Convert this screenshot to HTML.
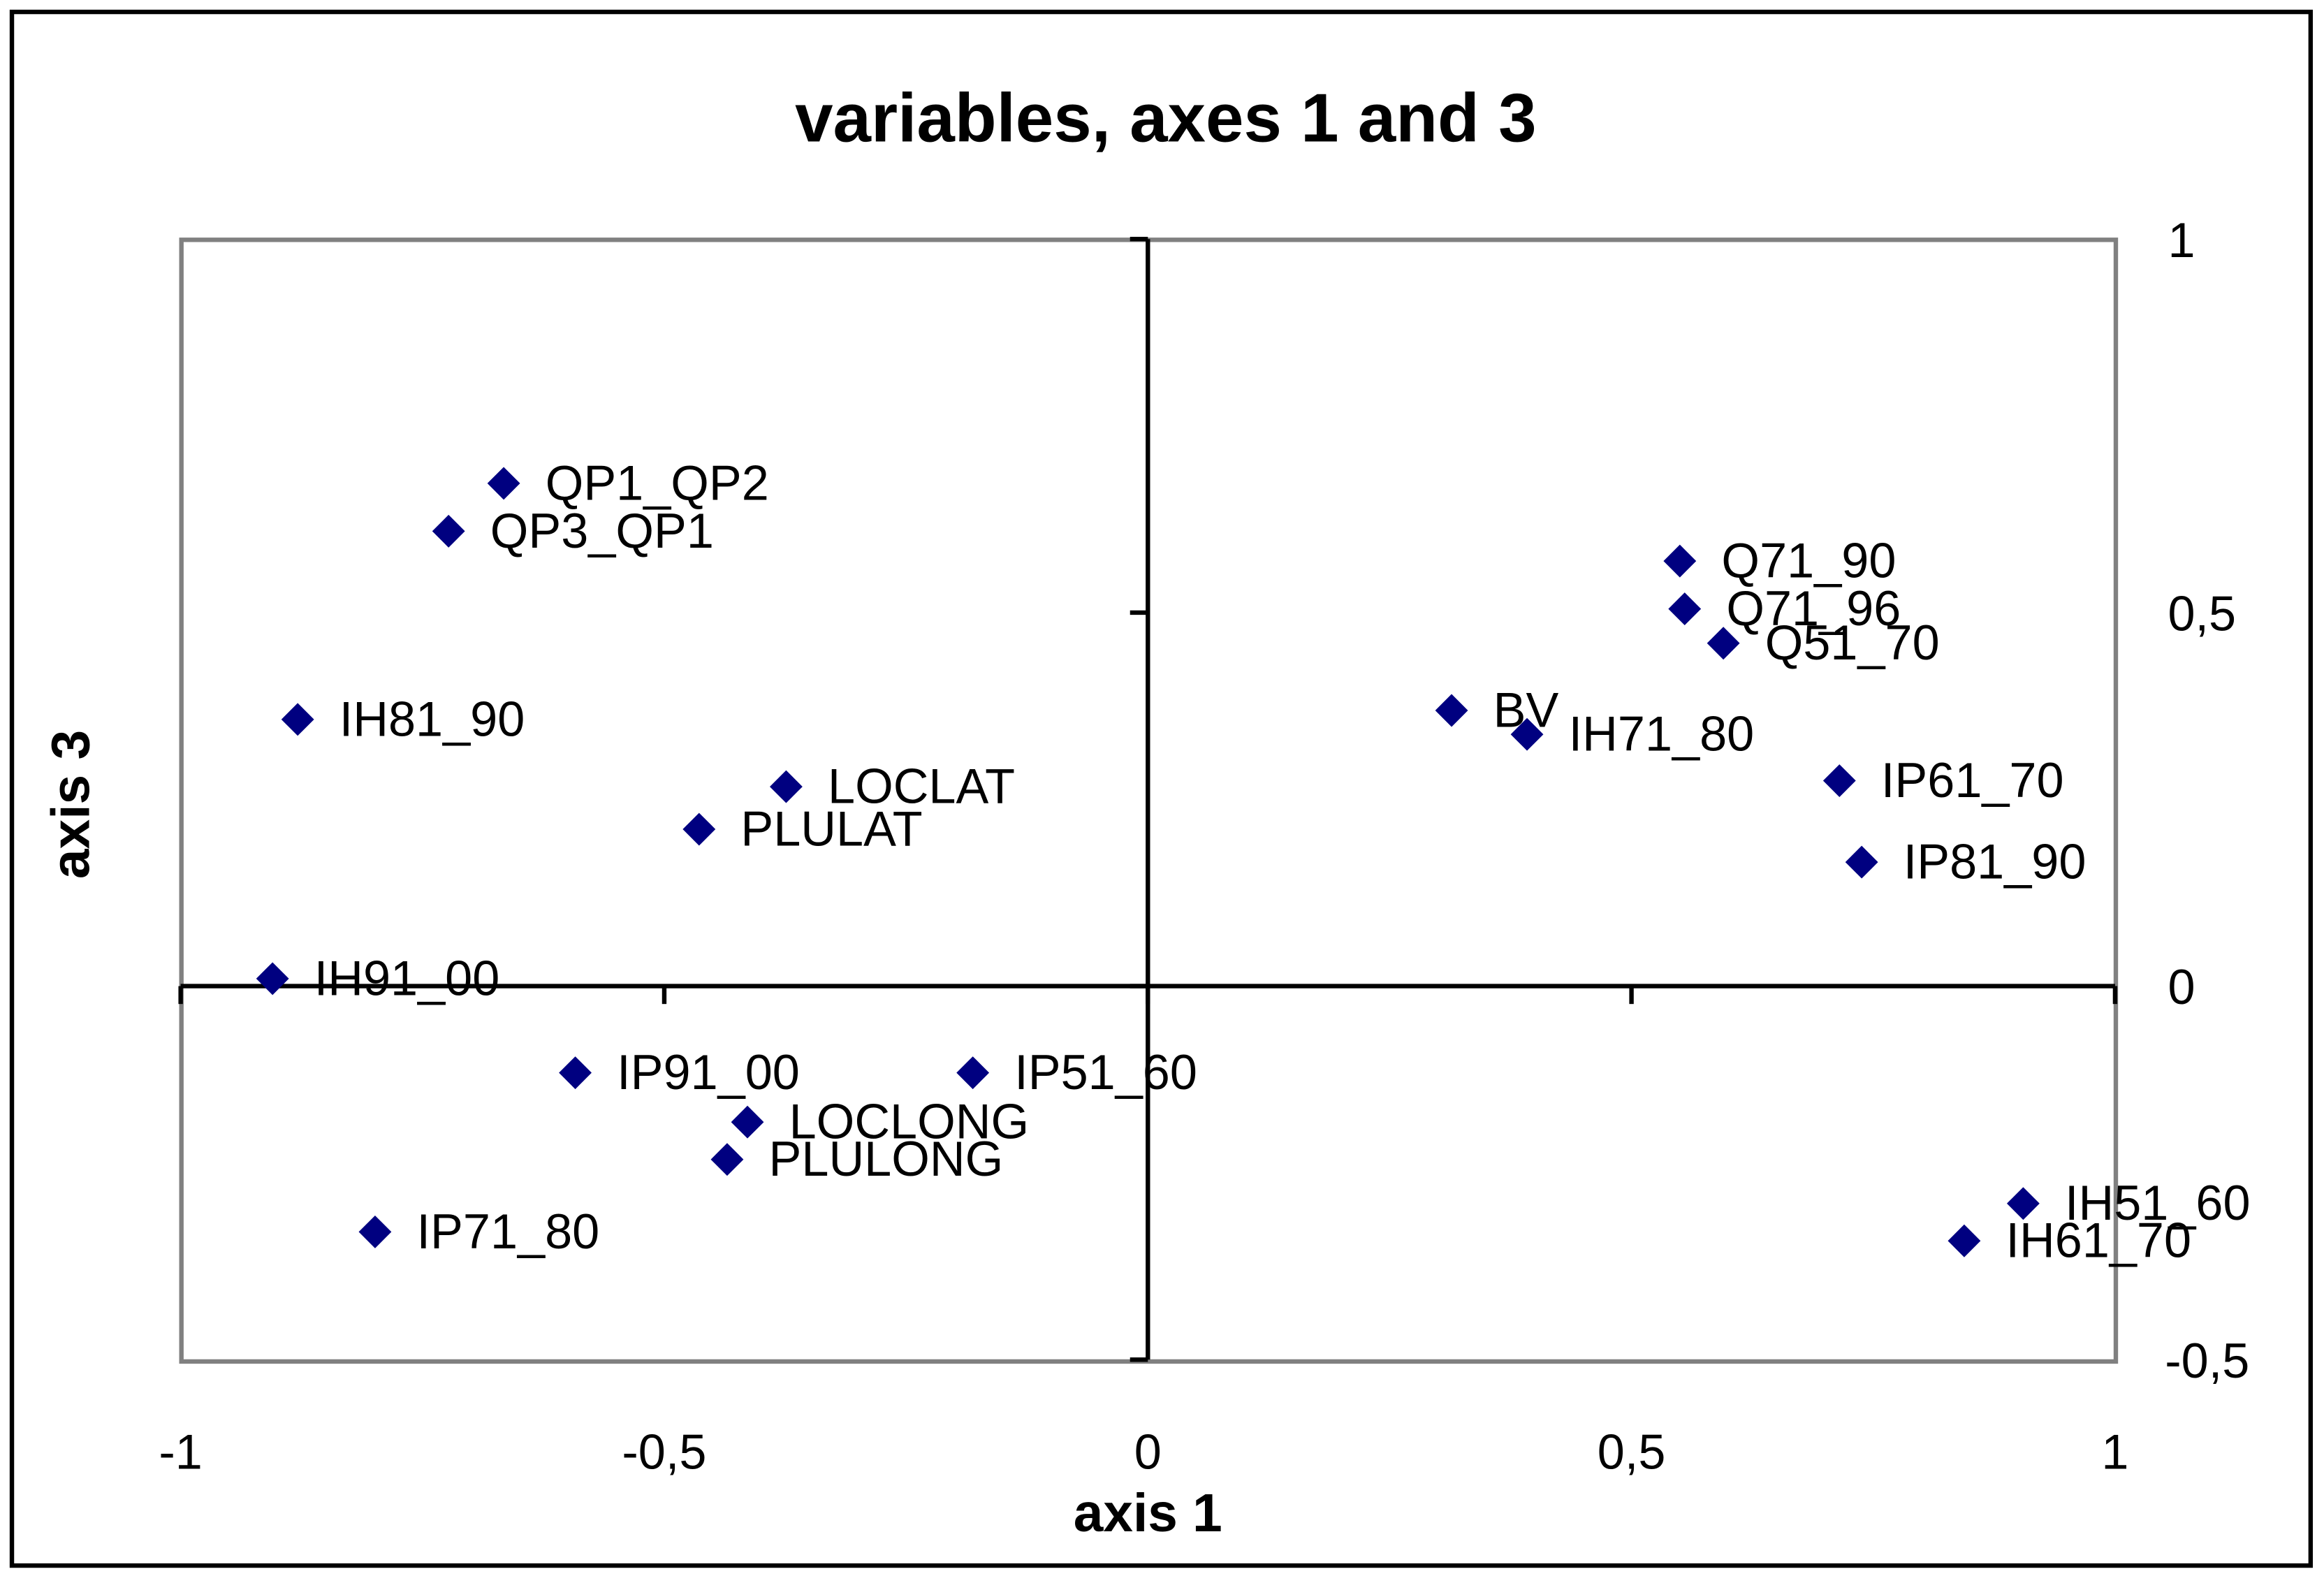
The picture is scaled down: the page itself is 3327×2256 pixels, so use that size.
<!DOCTYPE html>
<html><head><meta charset="utf-8"><style>
html,body{margin:0;padding:0;background:#fff;}
svg{display:block;font-family:"Liberation Sans",Arial,sans-serif;}
</style></head><body>
<svg width="3327" height="2256" viewBox="0 0 1563 1058" preserveAspectRatio="none" xmlns="http://www.w3.org/2000/svg">
<rect x="8" y="8" width="1546" height="1043" fill="#fff" stroke="#000" stroke-width="3"/>
<text x="784" y="95" font-size="46" font-weight="bold" text-anchor="middle">variables, axes 1 and 3</text>
<rect x="122" y="161" width="1301" height="753" fill="none" stroke="#808080" stroke-width="3"/>
<g id="axes"></g>
<g id="pts"></g>
<text x="772" y="1028" font-size="36" font-weight="bold" text-anchor="middle">axis 1</text>
<text transform="translate(60,540) rotate(-90)" font-size="36" font-weight="bold" text-anchor="middle">axis 3</text>
</svg>
<script>
const labels=["QP1_QP2","QP3_QP1","IH81_90","LOCLAT","PLULAT","IH91_00","IP91_00","IP51_60","LOCLONG","PLULONG","IP71_80","Q71_90","Q71_96","Q51_70","BV","IH71_80","IP61_70","IP81_90","IH51_60","IH61_70"];
const xVals=[-0.666,-0.723,-0.879,-0.374,-0.464,-0.905,-0.592,-0.181,-0.414,-0.435,-0.799,0.550,0.555,0.595,0.314,0.392,0.715,0.738,0.905,0.844];
const yVals=[0.673,0.609,0.357,0.267,0.210,0.010,-0.116,-0.116,-0.182,-0.232,-0.329,0.569,0.505,0.459,0.369,0.337,0.275,0.166,-0.291,-0.341];
const xTicks=[-1,-0.5,0,0.5,1];
const yTicks=[1,0.5,0,-0.5];
const NS="http://www.w3.org/2000/svg";
const sx=v=>772+v*650.5, sy=v=>662-v*501.5;
const fmt=v=>String(v).replace('.',',');
function mk(tag,attrs,parent){const e=document.createElementNS(NS,tag);for(const k in attrs)e.setAttribute(k,attrs[k]);parent.appendChild(e);return e;}
const ax=document.getElementById('axes');
let l=mk('line',{x1:sx(-1),x2:sx(1),y1:sy(0),y2:sy(0),stroke:'#000','stroke-width':3},ax);


l=mk('line',{x1:sx(0),x2:sx(0),y1:sy(1),y2:sy(-0.5),stroke:'#000','stroke-width':3},ax);


xTicks.forEach(v=>{
 const t=mk('line',{x1:sx(v),x2:sx(v),y1:sy(0),y2:sy(0)+12,stroke:'#000','stroke-width':3},ax);
 
 
 const tx=mk('text',{x:sx(v),y:986,'font-size':33,'text-anchor':'middle'},ax);tx.textContent=fmt(v);
 
 
});
yTicks.forEach(v=>{
 const t=mk('line',{x1:sx(0)-12,x2:sx(0),y1:sy(v),y2:sy(v),stroke:'#000','stroke-width':3},ax);
 
 
 const tx=mk('text',{x:v<0?1456:1458,y:sy(v)+12,'font-size':33,'text-anchor':'start'},ax);tx.textContent=fmt(v);
 
 
});
const pg=document.getElementById('pts');
labels.forEach((n,i)=>{
 const x=sx(xVals[i]),y=sy(yVals[i]);
 const p=mk('polygon',{points:`${x},${y-11} ${x+11},${y} ${x},${y+11} ${x-11},${y}`,fill:'#000080'},pg);
 
 
 const t=mk('text',{x:x+28,y:y+11,'font-size':33},pg);t.textContent=n;
 
 
});
</script>
</body></html>
